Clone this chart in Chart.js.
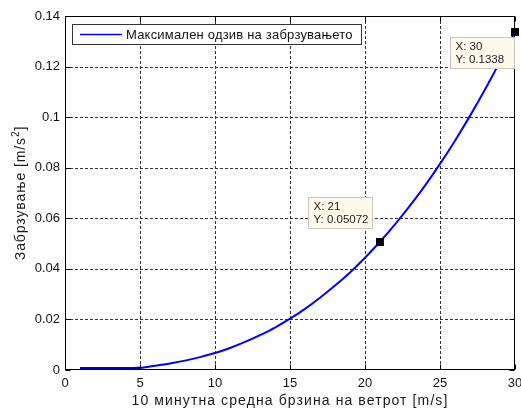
<!DOCTYPE html>
<html>
<head>
<meta charset="utf-8">
<script src="https://cdn.jsdelivr.net/npm/chart.js@4/dist/chart.umd.min.js"></script>
<style>
  html, body { margin: 0; padding: 0; background: #fff; }
  #wrap { width: 521px; height: 409px; }
</style>
</head>
<body>
<div id="wrap"><canvas id="c" width="521" height="409"></canvas></div>
<script>
// Wind speed (10-minute mean, m/s) and the maximum acceleration response (m/s^2)
const windSpeed = [1, 2, 3, 4, 5, 6, 7, 8, 9, 10, 11, 12, 13, 14, 15,
                   16, 17, 18, 19, 20, 21, 22, 23, 24, 25, 26, 27, 28, 29, 30];
const maxAccel = [0.0006, 0.0006, 0.0006, 0.0006, 0.0008, 0.0017, 0.0026, 0.0037, 0.0051, 0.0067,
                  0.0087, 0.0111, 0.0138, 0.0168, 0.0203, 0.0242, 0.0286, 0.0334, 0.0386, 0.0444,
                  0.05072, 0.0576, 0.0650, 0.0729, 0.0815, 0.0907, 0.1005, 0.1109, 0.1220, 0.1338];

// Axis ticks
const xTickValues = [0, 5, 10, 15, 20, 25, 30];
const xTickLabels = ['0', '5', '10', '15', '20', '25', '30'];
const yTickValues = [0, 0.02, 0.04, 0.06, 0.08, 0.1, 0.12, 0.14];
const yTickLabels = ['0', '0.02', '0.04', '0.06', '0.08', '0.1', '0.12', '0.14'];

// Data tips: indices into the series above
const tipIndices = [20, 29];
const tipLabels = ['X: 21|Y: 0.05072', 'X: 30|Y: 0.1338'];

const seriesLabel = 'Максимален одзив на забрзувањето';
const xTitle = '10 минутна средна брзина на ветрот [m/s]';
const yTitleMain = 'Забрзување [m/s';
const yTitleSup = '2';
const yTitleEnd = ']';

const FONT = '"Liberation Sans", Arial, sans-serif';

const points = windSpeed.map((v, i) => ({ x: v, y: maxAccel[i] }));

const framePlugin = {
  id: 'frame',
  beforeDatasetsDraw(chart) {
    const { ctx, chartArea: a, scales: { x, y } } = chart;
    ctx.save();
    ctx.strokeStyle = '#333';
    ctx.lineWidth = 1;
    ctx.setLineDash([3, 2]);
    xTickValues.slice(1, -1).forEach(v => {
      const px = Math.round(x.getPixelForValue(v)) + 0.5;
      ctx.beginPath(); ctx.moveTo(px, a.top); ctx.lineTo(px, a.bottom); ctx.stroke();
    });
    yTickValues.slice(1, -1).forEach(v => {
      const py = Math.round(y.getPixelForValue(v)) + 0.5;
      ctx.beginPath(); ctx.moveTo(a.left, py); ctx.lineTo(a.right, py); ctx.stroke();
    });
    ctx.restore();
  },
  afterDatasetsDraw(chart) {
    const { ctx, chartArea: a, scales: { x, y } } = chart;
    const L = a.left + 0.5, R = a.right - 0.5, T = a.top + 0.5, B = a.bottom - 0.5;
    ctx.save();
    // Axes box and inward ticks
    ctx.strokeStyle = '#000';
    ctx.lineWidth = 1;
    ctx.setLineDash([]);
    ctx.strokeRect(L, T, R - L, B - T);
    const tl = 5;
    ctx.beginPath();
    xTickValues.forEach(v => {
      const px = Math.round(x.getPixelForValue(v)) + 0.5;
      ctx.moveTo(px, B); ctx.lineTo(px, B - tl);
      ctx.moveTo(px, T); ctx.lineTo(px, T + tl);
    });
    yTickValues.forEach(v => {
      const py = Math.round(y.getPixelForValue(v)) + 0.5;
      ctx.moveTo(L, py); ctx.lineTo(L + tl, py);
      ctx.moveTo(R, py); ctx.lineTo(R - tl, py);
    });
    ctx.stroke();

    // Legend box
    const lx = 72.5, ly = 24.5, lw = 289, lh = 20;
    ctx.fillStyle = '#fff';
    ctx.fillRect(lx, ly, lw, lh);
    ctx.strokeStyle = '#333';
    ctx.strokeRect(lx, ly, lw, lh);
    ctx.strokeStyle = '#0000ff';
    ctx.lineWidth = 1.5;
    ctx.beginPath(); ctx.moveTo(80, ly + lh / 2); ctx.lineTo(122, ly + lh / 2); ctx.stroke();
    ctx.fillStyle = '#111';
    ctx.font = '13px ' + FONT;
    ctx.letterSpacing = '0.2px';
    ctx.textBaseline = 'middle';
    ctx.textAlign = 'left';
    ctx.fillText(chart.data.datasets[0].label, 126, ly + lh / 2 + 0.5);
    ctx.letterSpacing = '0px';

    // Data tips
    const tipOffsets = [{ dx: -72, dy: -45 }, { dx: -65, dy: 5 }];
    tipIndices.forEach((idx, k) => {
      const px = x.getPixelForValue(windSpeed[idx]);
      const py = y.getPixelForValue(maxAccel[idx]);
      const bx = Math.round(px + tipOffsets[k].dx) + 0.5;
      const by = Math.round(py + tipOffsets[k].dy) + 0.5;
      const bw = 64, bh = 31;
      ctx.fillStyle = '#fff9ec';
      ctx.fillRect(bx, by, bw, bh);
      ctx.strokeStyle = '#c9c6be';
      ctx.lineWidth = 1;
      ctx.strokeRect(bx, by, bw, bh);
      ctx.fillStyle = '#1c1c1c';
      ctx.font = '11.5px ' + FONT;
      ctx.textBaseline = 'middle';
      const lines = tipLabels[k].split('|');
      ctx.fillText(lines[0], bx + 5, by + 9);
      ctx.fillText(lines[1], bx + 5, by + 22);
      ctx.fillStyle = '#000';
      ctx.fillRect(Math.round(px) - 4, Math.round(py) - 4, 8, 8);
    });

    // Axis titles
    ctx.fillStyle = '#1a1a1a';
    ctx.font = '14px ' + FONT;
    ctx.letterSpacing = '1.1px';
    ctx.textAlign = 'center';
    ctx.textBaseline = 'alphabetic';
    ctx.fillText(xTitle, (a.left + a.right) / 2, 405);

    ctx.save();
    ctx.translate(25, (a.top + a.bottom) / 2);
    ctx.rotate(-Math.PI / 2);
    ctx.font = '14px ' + FONT;
    ctx.letterSpacing = '0.9px';
    const w1 = ctx.measureText(yTitleMain).width;
    ctx.font = '10px ' + FONT;
    const w2 = ctx.measureText(yTitleSup).width;
    ctx.font = '14px ' + FONT;
    const w3 = ctx.measureText(yTitleEnd).width;
    let sx = -(w1 + w2 + w3) / 2;
    ctx.textAlign = 'left';
    ctx.fillText(yTitleMain, sx, 0);
    ctx.font = '10px ' + FONT;
    ctx.fillText(yTitleSup, sx + w1, -6);
    ctx.font = '14px ' + FONT;
    ctx.fillText(yTitleEnd, sx + w1 + w2, 0);
    ctx.restore();

    ctx.restore();
  }
};

new Chart(document.getElementById('c'), {
  type: 'line',
  data: {
    datasets: [{
      label: seriesLabel,
      data: points,
      borderColor: '#0000ff',
      borderWidth: 2,
      pointRadius: 0,
      fill: false,
      tension: 0,
      cubicInterpolationMode: 'monotone',
      segment: {
        // the flat low-speed stretch renders heavier
        borderWidth: c => (c.p1.parsed.x <= 5 ? 3 : 2),
        borderColor: c => (c.p1.parsed.x <= 5 ? '#0000c8' : '#0000ff')
      }
    }]
  },
  options: {
    responsive: false,
    animation: false,
    devicePixelRatio: 1,
    layout: { padding: { top: 16, right: 6, left: 0, bottom: 0 } },
    plugins: { legend: { display: false }, tooltip: { enabled: false } },
    scales: {
      x: {
        type: 'linear',
        min: 0, max: 30,
        afterBuildTicks(scale) { scale.ticks = xTickValues.map(v => ({ value: v })); },
        afterFit(scale) { scale.height = 39; scale.paddingLeft = 0; scale.paddingRight = 0; },
        grid: { display: false, drawTicks: false },
        border: { display: false },
        ticks: {
          padding: 6,
          color: '#111',
          font: { family: FONT, size: 13 },
          callback: (v, i) => xTickLabels[i]
        }
      },
      y: {
        type: 'linear',
        min: 0, max: 0.14,
        afterBuildTicks(scale) { scale.ticks = yTickValues.map(v => ({ value: v })); },
        afterFit(scale) { scale.width = 65; scale.paddingTop = 0; scale.paddingBottom = 0; },
        grid: { display: false, drawTicks: false },
        border: { display: false },
        ticks: {
          padding: 5,
          color: '#111',
          font: { family: FONT, size: 13 },
          callback: (v, i) => yTickLabels[i]
        }
      }
    }
  },
  plugins: [framePlugin]
});
</script>
</body>
</html>
